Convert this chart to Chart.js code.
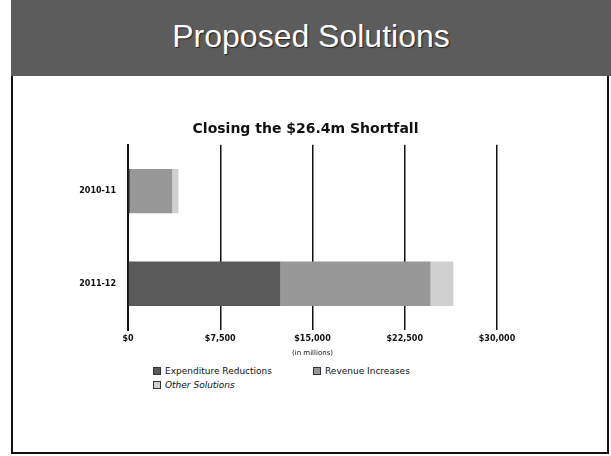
<!DOCTYPE html>
<html>
<head>
<meta charset="utf-8">
<script src="https://cdn.jsdelivr.net/npm/chart.js@4.4.0/dist/chart.umd.min.js"></script>
<style>
  html, body { margin: 0; padding: 0; background: #fff; }
  body { width: 611px; height: 456px; position: relative; overflow: hidden; font-family: "Liberation Sans", Arial, sans-serif; }
  #frame { position: absolute; left: 11px; top: 0; width: 598px; height: 454px; border-left: 2px solid #111; border-right: 2px solid #111; border-bottom: 2px solid #111; box-sizing: border-box; }
  #band { position: absolute; left: 11px; top: 0; width: 600px; height: 76px; background: #5c5c5c; }
  #band h1 { margin: 0; position: absolute; left: 0; right: 0; top: 18px; text-align: center; color: #fff; font-size: 32px; font-weight: normal; text-shadow: 1px 1px 1px #222; }
  #wrap { position: absolute; left: 0; top: 110px; width: 611px; height: 247px; }
  #legend { position: absolute; left: 153px; top: 366px; font-size: 9px; color: #111; font-family: "DejaVu Sans", sans-serif; }
  .item { position: absolute; white-space: nowrap; display: flex; align-items: center; }
  .box { width: 8px; height: 8px; margin-right: 4px; border: 1px solid #333; box-sizing: border-box; }
</style>
</head>
<body>
<div id="frame"></div>
<div id="band"><h1>Proposed Solutions</h1></div>
<div id="wrap"><canvas id="chart"></canvas></div>
<div id="legend"></div>
<script>
  // Values
  const years = ['2010-11', '2011-12'];
  const expenditureReductions = [200, 12400];
  const revenueIncreases = [3400, 12200];
  const otherSolutions = [500, 1850];
  const xTicks = [0, 7500, 15000, 22500, 30000];

  const seriesNames = ['Expenditure Reductions', 'Revenue Increases', 'Other Solutions'];
  const seriesColors = ['#5a5a5a', '#989898', '#d0d0d0'];

  const ctx = document.getElementById('chart').getContext('2d');

  const chart = new Chart(ctx, {
    type: 'bar',
    data: {
      labels: years,
      datasets: [expenditureReductions, revenueIncreases, otherSolutions].map((d, i) => ({
        label: seriesNames[i],
        data: d,
        backgroundColor: seriesColors[i],
        borderWidth: 0,
        barPercentage: 0.48,
        categoryPercentage: 1
      }))
    },
    options: {
      indexAxis: 'y',
      responsive: true,
      maintainAspectRatio: false,
      animation: false,
      layout: { padding: 0 },
      scales: {
        x: {
          stacked: true,
          min: 0,
          max: 30000,
          afterBuildTicks: (s) => { s.ticks = xTicks.map(v => ({ value: v })); },
          grid: { color: '#111', lineWidth: 1.5, drawTicks: false },
          border: { display: false },
          ticks: {
            padding: 4,
            color: '#111',
            font: { size: 8, weight: 'bold', family: 'DejaVu Sans' },
            callback: (v) => '$' + v.toLocaleString('en-US')
          },
          title: {
            display: true,
            text: '(in millions)',
            color: '#111',
            padding: { top: 1, bottom: 0 },
            font: { size: 7, family: 'DejaVu Sans' }
          }
        },
        y: {
          stacked: true,
          afterFit: (s) => { s.width = 128; },
          grid: { display: false },
          border: { display: true, color: '#111', width: 2 },
          ticks: {
            padding: 4,
            color: '#111',
            font: { size: 8, weight: 'bold', family: 'DejaVu Sans' }
          }
        },
        // empty right-hand axis, only to keep the plot where it sits and the title centred on the slide
        pad: {
          axis: 'y',
          position: 'right',
          afterFit: (s) => { s.width = 114; },
          grid: { display: false },
          border: { display: false },
          ticks: { display: false }
        }
      },
      plugins: {
        legend: { display: false },
        tooltip: { enabled: false },
        title: {
          display: true,
          text: 'Closing the $26.4m Shortfall',
          color: '#111',
          padding: { top: 11, bottom: 7 },
          font: { size: 14, weight: 'bold', family: 'DejaVu Sans' }
        }
      }
    }
  });

  // Legend built from the dataset labels
  const legend = document.getElementById('legend');
  const spots = [[0, 0], [160, 0], [0, 14]];
  chart.data.datasets.forEach((ds, i) => {
    const el = document.createElement('div');
    el.className = 'item';
    el.style.left = spots[i][0] + 'px';
    el.style.top = spots[i][1] + 'px';
    el.innerHTML = '<span class="box" style="background:' + ds.backgroundColor + '"></span>' +
      '<span' + (i === 2 ? ' style="font-style:italic"' : '') + '>' + ds.label + '</span>';
    legend.appendChild(el);
  });
</script>
</body>
</html>
